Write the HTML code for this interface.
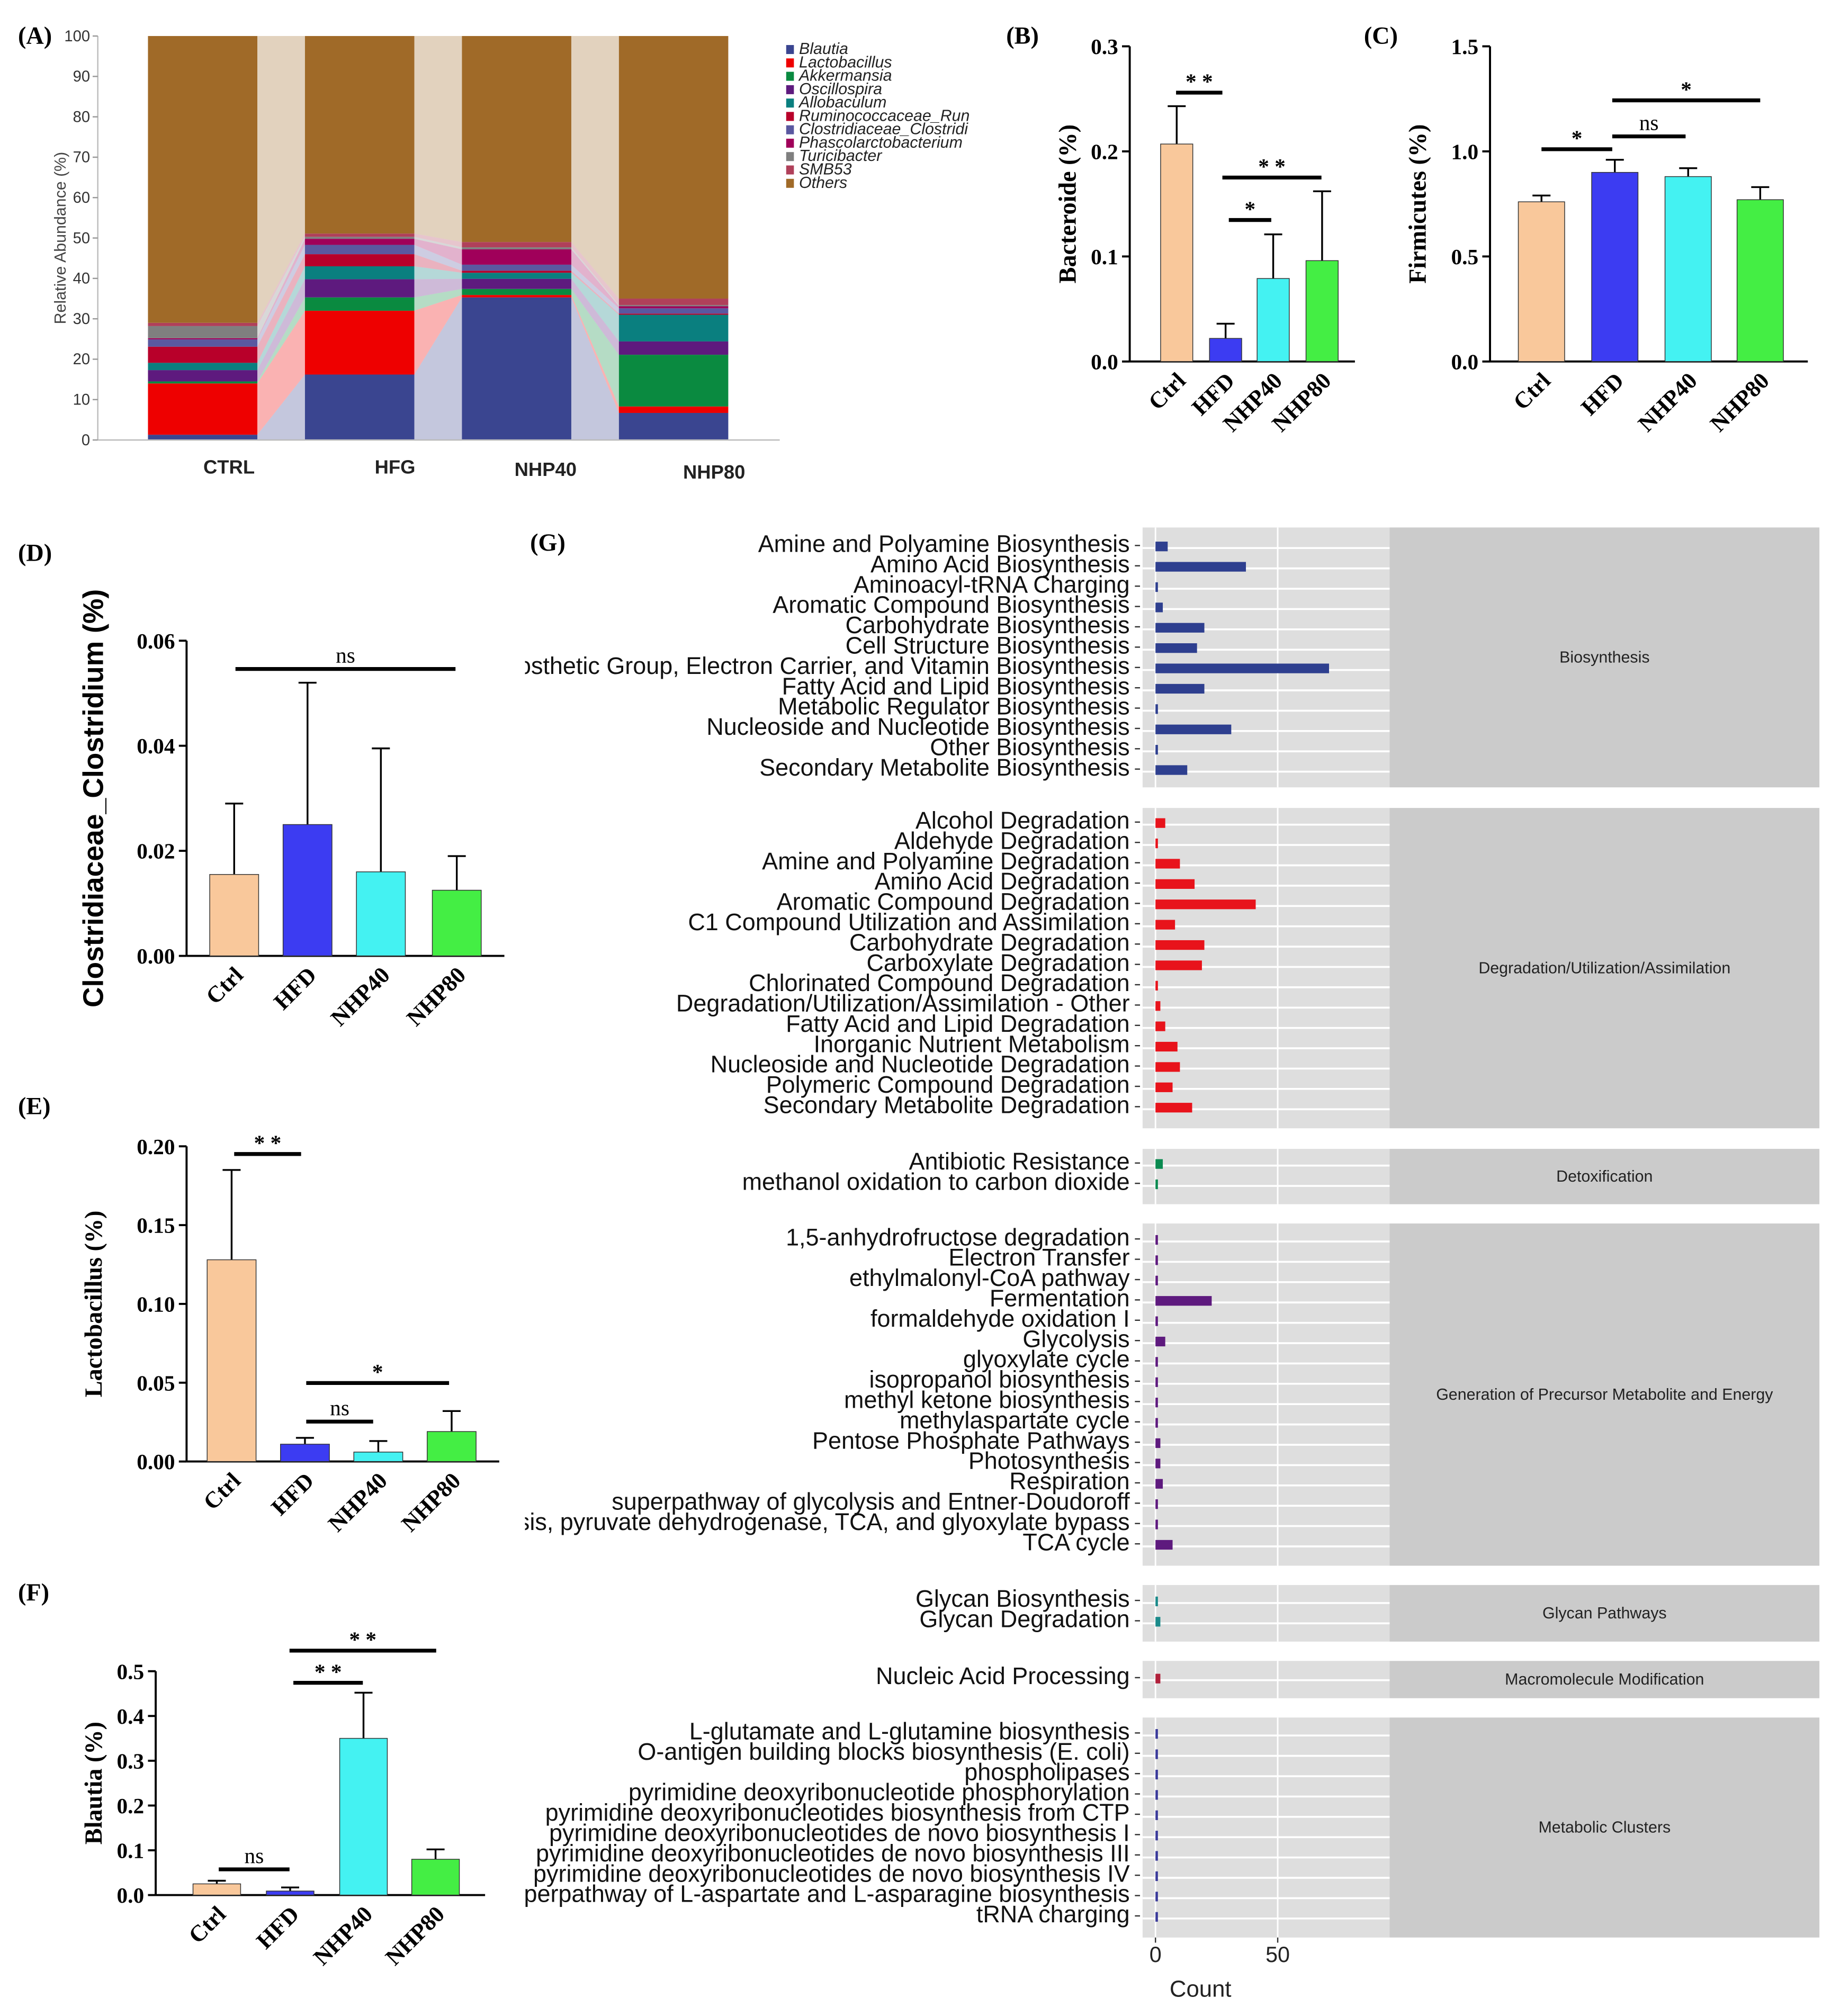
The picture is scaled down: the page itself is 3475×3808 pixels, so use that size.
<!DOCTYPE html>
<html><head><meta charset="utf-8"><style>html,body{margin:0;padding:0;background:#fff}svg{display:block}</style></head>
<body>
<svg id="fig" xmlns="http://www.w3.org/2000/svg" width="3475" height="3808" viewBox="0 0 1430 1567" preserveAspectRatio="none">
<defs><clipPath id="gclip"><rect x="408" y="400" width="1020" height="1167"/></clipPath></defs>
</svg>
<script>
// ---------- Panel A data ----------
const aGroups=["CTRL","HFG","NHP40","NHP80"];
const aTaxa=["Blautia","Lactobacillus","Akkermansia","Oscillospira","Allobaculum","Ruminococcaceae_Run","Clostridiaceae_Clostridi","Phascolarctobacterium","Turicibacter","SMB53","Others"];
const aCtrl=[1.3,12.7,0.5,2.8,1.8,4.0,1.8,0.3,3.0,0.8,71.0];
const aHfg=[16.2,15.8,3.3,4.5,3.2,3.0,2.3,1.5,0.5,0.8,48.9];
const aNhp40=[35.3,0.6,1.5,2.5,1.5,0.5,1.5,3.8,0.5,1.3,51.0];
const aNhp80=[6.7,1.6,12.8,3.3,6.6,0.3,1.3,0.5,0.3,1.6,65.0];
const aTicks=[0,10,20,30,40,50,60,70,80,90,100];
// ---------- Bar panels ----------
const grp=["Ctrl","HFD","NHP40","NHP80"];
const bVals=[0.207,0.022,0.079,0.096], bErr=[0.243,0.036,0.121,0.162], bTicks=[0,0.1,0.2,0.3];
const cVals=[0.76,0.90,0.88,0.77], cErr=[0.79,0.96,0.92,0.83], cTicks=[0,0.5,1.0,1.5];
const dVals=[0.0155,0.025,0.016,0.0125], dErr=[0.029,0.052,0.0395,0.019], dTicks=[0,0.02,0.04,0.06];
const eVals=[0.128,0.011,0.006,0.019], eErr=[0.185,0.015,0.013,0.032], eTicks=[0,0.05,0.10,0.15,0.20];
const fVals=[0.025,0.009,0.35,0.08], fErr=[0.032,0.017,0.452,0.102], fTicks=[0,0.1,0.2,0.3,0.4,0.5];
// ---------- Panel G data ----------
const gFacets=["Biosynthesis","Degradation/Utilization/Assimilation","Detoxification","Generation of Precursor Metabolite and Energy","Glycan Pathways","Macromolecule Modification","Metabolic Clusters"];
const gBioNames=["Amine and Polyamine Biosynthesis","Amino Acid Biosynthesis","Aminoacyl-tRNA Charging","Aromatic Compound Biosynthesis","Carbohydrate Biosynthesis","Cell Structure Biosynthesis","Cofactor, Prosthetic Group, Electron Carrier, and Vitamin Biosynthesis","Fatty Acid and Lipid Biosynthesis","Metabolic Regulator Biosynthesis","Nucleoside and Nucleotide Biosynthesis","Other Biosynthesis","Secondary Metabolite Biosynthesis"];
const gBioVals=[5,37,1,3,20,17,71,20,1,31,1,13];
const gDegNames=["Alcohol Degradation","Aldehyde Degradation","Amine and Polyamine Degradation","Amino Acid Degradation","Aromatic Compound Degradation","C1 Compound Utilization and Assimilation","Carbohydrate Degradation","Carboxylate Degradation","Chlorinated Compound Degradation","Degradation/Utilization/Assimilation - Other","Fatty Acid and Lipid Degradation","Inorganic Nutrient Metabolism","Nucleoside and Nucleotide Degradation","Polymeric Compound Degradation","Secondary Metabolite Degradation"];
const gDegVals=[4,1,10,16,41,8,20,19,1,2,4,9,10,7,15];
const gDetNames=["Antibiotic Resistance","methanol oxidation to carbon dioxide"];
const gDetVals=[3,1];
const gGenNames=["1,5-anhydrofructose degradation","Electron Transfer","ethylmalonyl-CoA pathway","Fermentation","formaldehyde oxidation I","Glycolysis","glyoxylate cycle","isopropanol biosynthesis","methyl ketone biosynthesis","methylaspartate cycle","Pentose Phosphate Pathways","Photosynthesis","Respiration","superpathway of glycolysis and Entner-Doudoroff","superpathway of glycolysis, pyruvate dehydrogenase, TCA, and glyoxylate bypass","TCA cycle"];
const gGenVals=[1,1,1,23,1,4,1,1,1,1,2,2,3,1,1,7];
const gGlyNames=["Glycan Biosynthesis","Glycan Degradation"];
const gGlyVals=[1,2];
const gMacNames=["Nucleic Acid Processing"];
const gMacVals=[2];
const gMetNames=["L-glutamate and L-glutamine biosynthesis","O-antigen building blocks biosynthesis (E. coli)","phospholipases","pyrimidine deoxyribonucleotide phosphorylation","pyrimidine deoxyribonucleotides biosynthesis from CTP","pyrimidine deoxyribonucleotides de novo biosynthesis I","pyrimidine deoxyribonucleotides de novo biosynthesis III","pyrimidine deoxyribonucleotides de novo biosynthesis IV","superpathway of L-aspartate and L-asparagine biosynthesis","tRNA charging"];
const gMetVals=[1,1,1,1,1,1,1,1,1,1];
const gTicks=[0,50];

const svg=document.getElementById('fig');
const NS="http://www.w3.org/2000/svg";
function el(tag,attrs,parent,text){const e=document.createElementNS(NS,tag);for(const k in attrs)e.setAttribute(k,attrs[k]);if(text!==undefined)e.textContent=text;(parent||svg).appendChild(e);return e;}
const SERIF='"Liberation Serif", serif', SANS='"Liberation Sans", sans-serif';

// panel letters
[["(A)",14,34],["(B)",782,34],["(C)",1060,34],["(D)",14,436],["(E)",14,866],["(F)",14,1244],["(G)",412,428]].forEach(p=>{
  const t=el('text',{x:p[1],y:p[2],'font-family':SERIF,'font-weight':'bold','font-size':19,fill:'#000'},svg,p[0]);
  
  
});

// ---------- Panel A ----------
(function(){
  const g=el('g',{});
  
  
  const colors=["#3a4590","#ee0000","#0a8a40","#5e1a7e","#0a7f7f","#b8002a","#5a58a0","#a0005a","#7f7f7f","#b0405a","#a06a28"];
  const y=v=>342-v*3.14;
  const xs=[115,237,359,481], bw=85;
  const lx=[178,307,424,555], ly=[368,368,370,372];
  const data=[aCtrl,aHfg,aNhp40,aNhp80];
  const cum=data.map(d=>{let s=0;return d.map(v=>{const a=s;s+=v;return [a,s];});});
  for(let i=0;i<3;i++){for(let k=0;k<aTaxa.length;k++){
    const a=cum[i][k],b=cum[i+1][k],x0=xs[i]+bw,x1=xs[i+1];
    const p=el('polygon',{points:`${x0},${y(a[0])} ${x0},${y(a[1])} ${x1},${y(b[1])} ${x1},${y(b[0])}`,fill:colors[k],'fill-opacity':0.3},g);
    
    
  }}
  data.forEach((d,i)=>{cum[i].forEach((c,k)=>{
    const r=el('rect',{x:xs[i],y:y(c[1]),width:bw,height:Math.max(0,y(c[0])-y(c[1])),fill:colors[k]},g);
    
    
  });
    const t=el('text',{x:lx[i],y:ly[i],'font-family':SANS,'font-weight':'bold','font-size':15,'text-anchor':'middle',fill:'#222'},g,aGroups[i]);
    
    
  });
  el('line',{x1:76,y1:342,x2:606,y2:342,stroke:'#bbb','stroke-width':1},g);
  el('line',{x1:76,y1:28,x2:76,y2:342,stroke:'#bbb','stroke-width':1},g);
  aTicks.forEach(v=>{
    el('line',{x1:72,y1:y(v),x2:76,y2:y(v),stroke:'#999'},g);
    const t=el('text',{x:70,y:y(v)+4,'font-family':SANS,'font-size':12,'text-anchor':'end',fill:'#333'},g,v);
    
    
  });
  const yl=el('text',{transform:'translate(51,185) rotate(-90)','font-family':SANS,'font-size':12.5,'text-anchor':'middle',fill:'#444'},g,'Relative Abundance (%)');
  
  
  aTaxa.forEach((n,k)=>{
    const ly2=39+k*10.4;
    const r=el('rect',{x:611,y:ly2-4,width:6,height:7,fill:colors[k]},g);
    
    
    const t=el('text',{x:621,y:ly2+3,'font-family':SANS,'font-style':'italic','font-size':12.5,fill:'#222'},g,n);
    
    
  });
})();

// ---------- Bar panels ----------
const barColors=["#f9c89b","#3c3cf2","#44f2f2","#44ee44"];
function barPanel(o){
  const g=el('g',{});
  
  
  const y=v=>o.y0-(v/o.max)*(o.y0-o.y1);
  el('line',{x1:o.ax,y1:o.y1,x2:o.ax,y2:o.y0,stroke:'#000','stroke-width':1.6},g);
  el('line',{x1:o.ax,y1:o.y0,x2:o.xend,y2:o.y0,stroke:'#000','stroke-width':1.6},g);
  o.ticks.forEach(v=>{
    el('line',{x1:o.ax-6,y1:y(v),x2:o.ax,y2:y(v),stroke:'#000','stroke-width':1.6},g);
    const t=el('text',{x:o.ax-9,y:y(v)+6,'font-family':SERIF,'font-weight':'bold','font-size':17,'text-anchor':'end'},g,v.toFixed(o.dec));
    
    
  });
  o.vals.forEach((v,i)=>{
    const x=o.bx[i], cx=x+o.bw/2;
    el('line',{x1:cx,y1:y(v),x2:cx,y2:y(o.err[i]),stroke:'#000','stroke-width':1.4},g);
    el('line',{x1:cx-7,y1:y(o.err[i]),x2:cx+7,y2:y(o.err[i]),stroke:'#000','stroke-width':1.4},g);
    const r=el('rect',{x:x,y:y(v),width:o.bw,height:o.y0-y(v),fill:barColors[i],stroke:'#333','stroke-width':0.6},g);
    
    
    const t=el('text',{transform:`translate(${cx+8},${o.y0+16}) rotate(-45)`,'font-family':SERIF,'font-weight':'bold','font-size':18,'text-anchor':'end'},g,grp[i]);
    
    
  });
  o.sig.forEach(s=>{
    el('line',{x1:s[0],y1:s[2],x2:s[1],y2:s[2],stroke:'#000','stroke-width':3},g);
    const t=el('text',{x:(s[0]+s[1])/2,y:s[2]-(s[3]=='ns'?5:3),'font-family':SERIF,'font-size':17,'font-weight':s[3]=='ns'?'normal':'bold','text-anchor':'middle'},g,s[3]);
    
    
  });
  const yl=el('text',{transform:`translate(${o.lx},${(o.y0+o.y1)/2}) rotate(-90)`,'font-family':o.lfont||SERIF,'font-weight':'bold','font-size':o.lsize||19,'text-anchor':'middle'},g,o.label);
  
  
}
barPanel({name:'bacteroide-chart',ax:878,xend:1053,y0:281,y1:36,max:0.3,ticks:bTicks,dec:1,vals:bVals,err:bErr,bx:[902,940,977,1015],bw:25,
  sig:[[914,950,72,'* *'],[955,988,171,'*'],[950,1027,138,'* *']],label:'Bacteroide (%)',lx:836});
barPanel({name:'firmicutes-chart',ax:1158,xend:1405,y0:281,y1:36,max:1.5,ticks:cTicks,dec:1,vals:cVals,err:cErr,bx:[1180,1237,1294,1350],bw:36,
  sig:[[1198,1253,116,'*'],[1253,1310,106,'ns'],[1253,1368,78,'*']],label:'Firmicutes (%)',lx:1108});
barPanel({name:'clostridium-chart',ax:145,xend:392,y0:743,y1:498,max:0.06,ticks:dTicks,dec:2,vals:dVals,err:dErr,bx:[163,220,277,336],bw:38,
  sig:[[183,354,520,'ns']],label:'Clostridiaceae_Clostridium (%)',lx:80,lfont:SANS,lsize:22});
barPanel({name:'lactobacillus-chart',ax:145,xend:388,y0:1136,y1:891,max:0.2,ticks:eTicks,dec:2,vals:eVals,err:eErr,bx:[161,218,275,332],bw:38,
  sig:[[182,234,897,'* *'],[238,290,1105,'ns'],[238,349,1075,'*']],label:'Lactobacillus (%)',lx:79});
barPanel({name:'blautia-chart',ax:121,xend:377,y0:1473,y1:1299,max:0.5,ticks:fTicks,dec:1,vals:fVals,err:fErr,bx:[150,207,264,320],bw:37,
  sig:[[170,225,1453,'ns'],[228,282,1308,'* *'],[225,339,1283,'* *']],label:'Blautia (%)',lx:79});

// ---------- Panel G ----------
(function(){
  const g=el('g',{'clip-path':'url(#gclip)'});
  
  
  const x=v=>898+v*1.9;
  const groups=[[gBioNames,gBioVals,410,612,424,"#2e3f8f"],[gDegNames,gDegVals,628,877,639,"#e8131b"],[gDetNames,gDetVals,893,936,904,"#0a8a50"],
    [gGenNames,gGenVals,951,1217,963,"#5e1a7e"],[gGlyNames,gGlyVals,1232,1276,1244,"#1a8a8a"],[gMacNames,gMacVals,1291,1320,1304,"#b0203a"],[gMetNames,gMetVals,1335,1506,1347,"#3a3a9a"]];
  const step=15.8;
  groups.forEach((G,gi)=>{
    const [names,vals,top,bot,first,col]=G;
    const p=el('rect',{x:888,y:top,width:192,height:bot-top,fill:'#dedede'},g);
    
    
    const s=el('rect',{x:1080,y:top,width:334,height:bot-top,fill:'#cbcbcb'},g);
    
    
    gTicks.forEach(v=>el('line',{x1:x(v),y1:top,x2:x(v),y2:bot,stroke:'#fff','stroke-width':1.2},g));
    const ft=el('text',{x:1247,y:(top+bot)/2+4,'font-family':SANS,'font-size':12.5,'text-anchor':'middle',fill:'#222'},g,gFacets[gi]);
    
    
    names.forEach((n,i)=>{
      const cy=first+i*step;
      el('line',{x1:888,y1:cy+2,x2:1080,y2:cy+2,stroke:'#fff','stroke-width':1.5},g);
      const b=el('rect',{x:x(0),y:cy-3,width:Math.max(1.2,x(vals[i])-x(0)),height:7.5,fill:col},g);
      
      
      el('line',{x1:882,y1:cy,x2:886,y2:cy,stroke:'#333','stroke-width':1},g);
      const t=el('text',{x:878,y:cy+5,'font-family':SANS,'font-size':18.5,'text-anchor':'end',fill:'#111'},g,n);
      
      
    });
  });
  gTicks.forEach(v=>{
    el('line',{x1:x(v),y1:1506,x2:x(v),y2:1510,stroke:'#333'},g);
    const t=el('text',{x:x(v),y:1525,'font-family':SANS,'font-size':17,'text-anchor':'middle',fill:'#222'},g,v);
    
    
  });
  const xl=el('text',{x:933,y:1552,'font-family':SANS,'font-size':18,'text-anchor':'middle',fill:'#222'},g,'Count');
  
  
})();
</script>
</body></html>
